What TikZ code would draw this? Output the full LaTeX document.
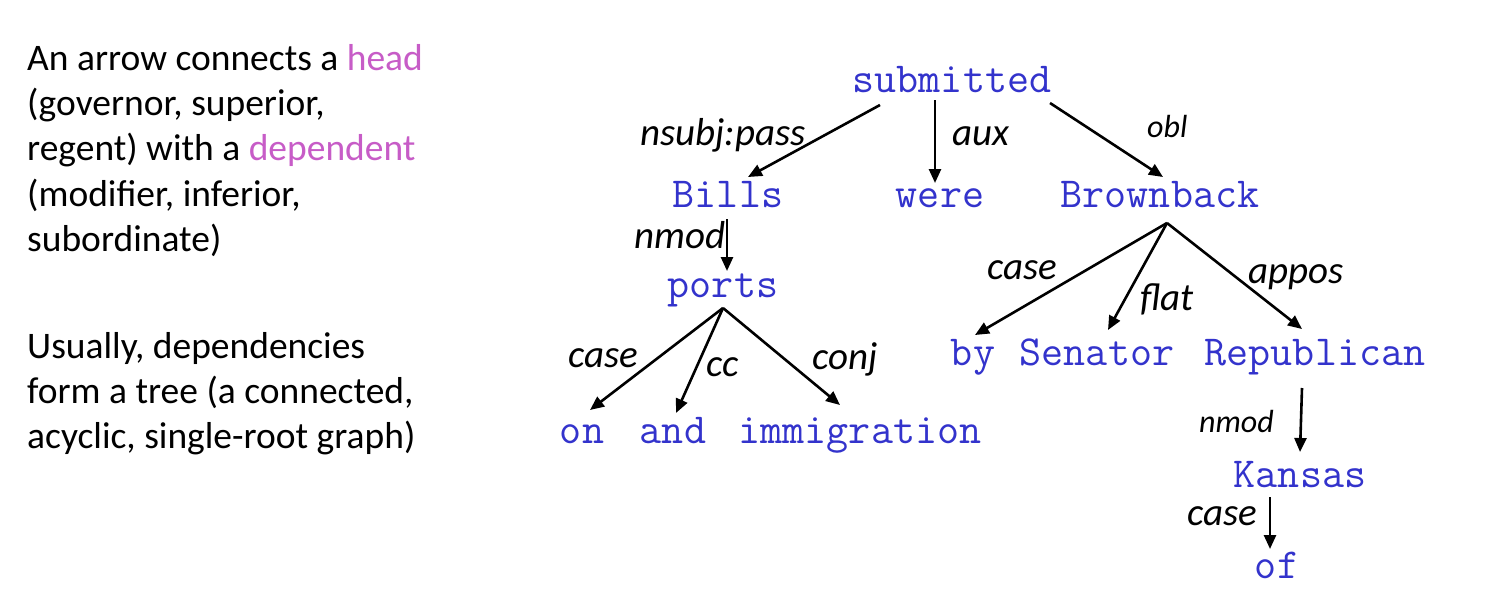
\documentclass[tikz,border=0pt]{standalone}
\usepackage{fontspec}
\setmainfont{Carlito}
\usetikzlibrary{arrows.meta}
\definecolor{wordblue}{RGB}{51,51,204}
\definecolor{hlpink}{RGB}{199,92,199}
\begin{document}
\begin{tikzpicture}[x=1pt,y=-1pt,
  word/.style={anchor=base,inner sep=0pt,text=wordblue,font=\ttfamily\fontsize{42.8}{44}\selectfont},
  lab/.style={anchor=base west,inner sep=0pt,font=\itshape\fontsize{39}{40}\selectfont},
  labsmall/.style={anchor=base west,inner sep=0pt,font=\itshape\fontsize{32}{34}\selectfont},
  body/.style={anchor=base west,inner sep=0pt,font=\fontsize{37.5}{45}\selectfont},
  dep/.style={draw,line width=2.6pt,-{Triangle[length=14pt,width=12pt]}}]
\useasboundingbox[fill=white] (0,0) rectangle (1488,603);

% left text
\node[body] (t1) at (27,70) {An arrow connects a \textcolor{hlpink}{head}};
\node[body] (t2) at (27,115) {(governor, superior,};
\node[body] (t3) at (27,160) {regent) with a \textcolor{hlpink}{dependent}};
\node[body] (t4) at (27,206) {(modifier, inferior,};
\node[body] (t5) at (27,251) {subordinate)};
\node[body] (u1) at (27,358) {Usually, dependencies};
\node[body] (u2) at (27,403) {form a tree (a connected,};
\node[body] (u3) at (27,448) {acyclic, single-root graph)};

% words
\node[word] (submitted) at (952,92) {submitted};
\node[word] (bills) at (728,207) {Bills};
\node[word] (were) at (940,207) {were};
\node[word] (brownback) at (1160,207) {Brownback};
\node[word] (ports) at (723,297) {ports};
\node[word] (on) at (582,443) {on};
\node[word] (and) at (673,443) {and};
\node[word] (immigration) at (860,443) {immigration};
\node[word] (by) at (973,365) {by};
\node[word] (senator) at (1097,365) {Senator};
\node[word] (republican) at (1315,365) {Republican};
\node[word] (kansas) at (1300,487) {Kansas};
\node[word] (of) at (1277,578) {of};

% attachment points
\coordinate (sub-l) at (880,105);
\coordinate (sub-m) at (935,100);
\coordinate (sub-r) at (1050,103);
\coordinate (bills-in) at (748,177);
\coordinate (were-in) at (935,183);
\coordinate (brown-in) at (1163,177);
\coordinate (bills-out) at (727,219);
\coordinate (ports-in) at (727,271);
\coordinate (ports-out) at (723,308);
\coordinate (on-in) at (590,410);
\coordinate (and-in) at (676,413);
\coordinate (imm-in) at (840,405);
\coordinate (brown-out) at (1167,223);
\coordinate (by-in) at (975,335);
\coordinate (sen-in) at (1108,330);
\coordinate (rep-in) at (1302,329);
\coordinate (rep-out) at (1302,388);
\coordinate (kan-in) at (1300,452);
\coordinate (kan-out) at (1270,497);
\coordinate (of-in) at (1270,549);

% arrows
\draw[dep] (sub-l) -- (bills-in);
\draw[dep] (sub-m) -- (were-in);
\draw[dep] (sub-r) -- (brown-in);
\draw[dep] (bills-out) -- (ports-in);
\draw[dep] (ports-out) -- (on-in);
\draw[dep] (ports-out) -- (and-in);
\draw[dep] (ports-out) -- (imm-in);
\draw[dep] (brown-out) -- (by-in);
\draw[dep] (brown-out) -- (sen-in);
\draw[dep] (brown-out) -- (rep-in);
\draw[dep] (rep-out) -- (kan-in);
\draw[dep] (kan-out) -- (of-in);

% labels
\node[lab] (l-nsubj) at (640,145) {nsubj:pass};
\node[lab] (l-aux) at (952,145) {aux};
\node[labsmall] (l-obl) at (1147,137) {obl};
\node[lab] (l-nmod1) at (634,248) {nmod};
\node[lab] (l-case1) at (568,367) {case};
\node[lab] (l-cc) at (706,376) {cc};
\node[lab] (l-conj) at (812,369) {conj};
\node[lab] (l-case2) at (987,279) {case};
\node[lab] (l-flat) at (1140,310) {flat};
\node[lab] (l-appos) at (1248,283) {appos};
\node[labsmall] (l-nmod2) at (1199,432) {nmod};
\node[lab] (l-case3) at (1187,525) {case};
\end{tikzpicture}
\end{document}
